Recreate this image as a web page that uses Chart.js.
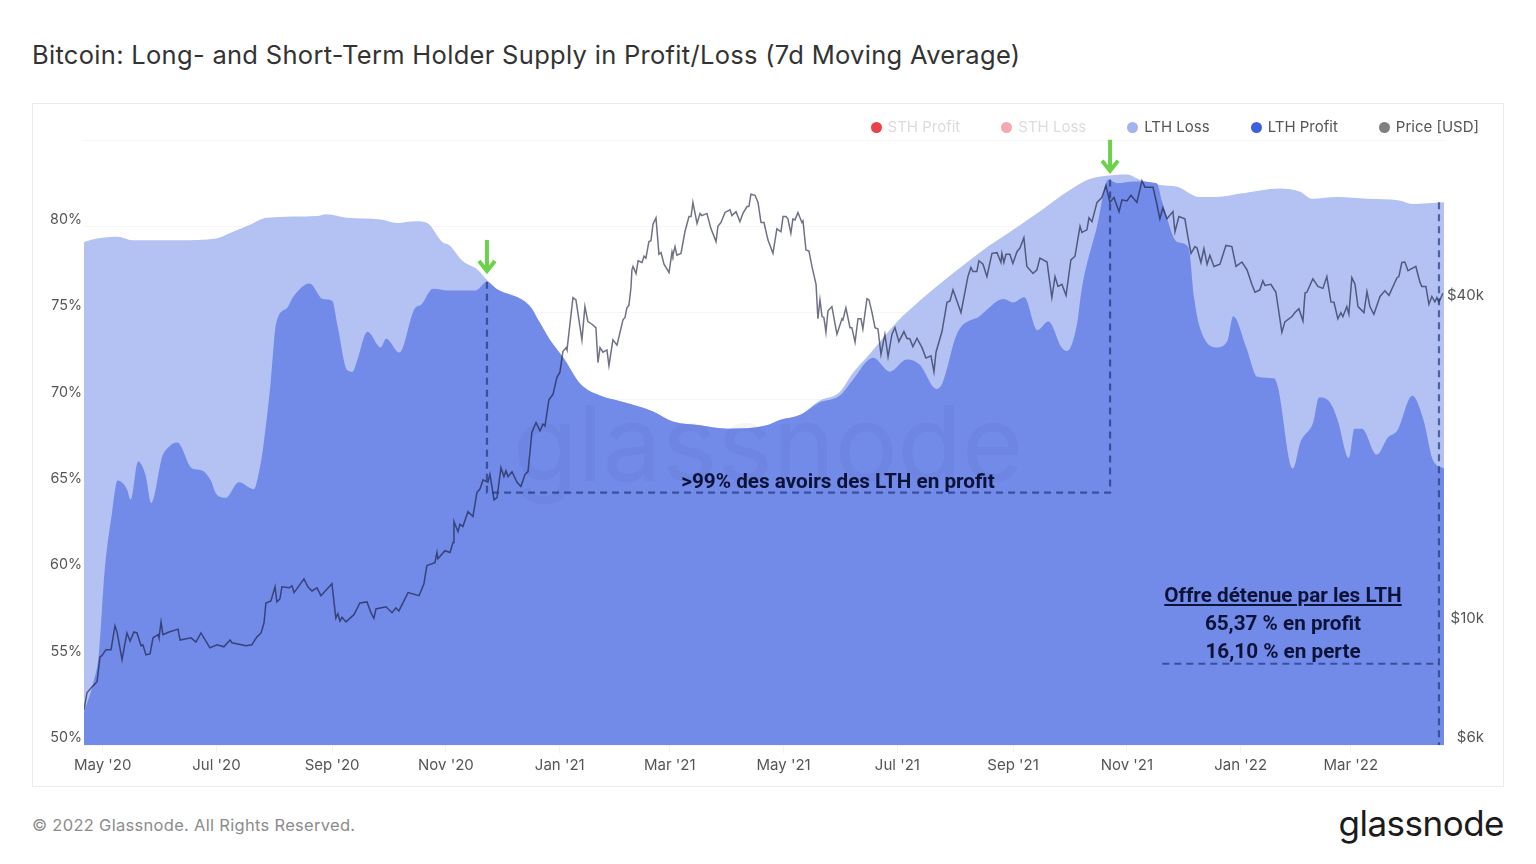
<!DOCTYPE html>
<html lang="en">
<head>
<meta charset="utf-8">
<title>Bitcoin: Long- and Short-Term Holder Supply in Profit/Loss</title>
<script src="https://cdn.jsdelivr.net/npm/chart.js@4"></script>
<style>
  html, body { margin: 0; padding: 0; background: #fff; }
  body { width: 1536px; height: 864px; position: relative; overflow: hidden; font-family: Inter, sans-serif; }
  .title { position: absolute; left: 32px; top: 38px; font-size: 25.5px; line-height: 34px; color: #333; white-space: nowrap; letter-spacing: 0.3px; }
  .card { position: absolute; left: 32px; top: 103px; width: 1470px; height: 682px; border: 1px solid #ebebeb; }
  #chart { position: absolute; left: 32px; top: 103px; }
  .legend { position: absolute; right: 57px; top: 117px; display: flex; gap: 41px; font-size: 15px; line-height: 20px; color: #555; }
  .legend span { display: flex; align-items: center; white-space: nowrap; }
  .legend i { width: 11px; height: 11px; border-radius: 50%; margin-right: 6px; }
  .legend .off { color: #dcdcdc; }
  .watermark { position: absolute; left: 513px; top: 378px; font-size: 105px; line-height: 130px; color: rgba(30,30,60,0.045); white-space: nowrap; }
  .note { position: absolute; font-family: Roboto, sans-serif; font-weight: 700; font-size: 20.7px; line-height: 28px; color: #0c1238; white-space: nowrap; text-align: center; }
  .footer { position: absolute; left: 32px; top: 814px; font-size: 16.5px; line-height: 22px; color: #8c8c8c; letter-spacing: 0.3px; }
  .logo { position: absolute; right: 32px; top: 798px; font-size: 35px; line-height: 50px; color: #1b1b1b; letter-spacing: -0.5px; }
</style>
</head>
<body>
<div class="title">Bitcoin: Long- and Short-Term Holder Supply in Profit/Loss (7d Moving Average)</div>
<div class="card"></div>
<canvas id="chart" width="1471" height="683"></canvas>
<div class="legend" id="legend"></div>
<div class="watermark">glassnode</div>
<div class="note" style="left:638px;top:467px;width:400px">&gt;99% des avoirs des LTH en profit</div>
<div class="note" style="left:1083px;top:581px;width:400px"><u>Offre détenue par les LTH</u><br>65,37 % en profit<br>16,10 % en perte</div>
<div class="footer">© 2022 Glassnode. All Rights Reserved.</div>
<div class="logo">glassnode</div>
<script>
// x is days since 21 Apr 2020
const monthDays = [10, 71, 133, 194, 255, 314, 375, 436, 498, 559, 620, 679];
const monthLabels = ["May '20", "Jul '20", "Sep '20", "Nov '20", "Jan '21", "Mar '21", "May '21", "Jul '21", "Sep '21", "Nov '21", "Jan '22", "Mar '22"];
const pctTicks = [50, 55, 60, 65, 70, 75, 80, 85];
const priceTicks = [6000, 10000, 40000];
const priceTickLabels = ["$6k", "$10k", "$40k"];

// top of the stack: LTH profit + LTH loss (% of supply)
const lossDays = [0,7,18,26,42,51,71,78,89,98,
  125,130,141,159,168,178,184,192,196,203,
  211,216,221,239,244,250,257,266,277,287,
  305,316,330,345,366,373,384,394,405,412,
  421,436,448,466,484,491,502,514,527,538,
  546,559,566,577,586,598,607,620,641,652,
  658,672,688,705,712,729];
const lossValues = [79.1,79.3,79.4,79.2,79.2,79.2,79.3,79.6,80.1,80.5,
  80.6,80.7,80.5,80.4,80.2,80.3,80.2,79.1,78.9,78.0,
  77.5,76.9,76.4,75.4,74.5,73.4,72.4,70.9,70.2,69.9,
  69.3,68.7,68.5,68.3,68.5,68.8,69.1,69.9,70.4,71.5,
  72.6,74.5,75.7,77.3,78.8,79.3,80.1,81.0,82.0,82.7,
  82.9,83.0,82.7,82.4,82.3,81.7,81.7,81.9,82.2,82.0,
  81.6,81.7,81.6,81.5,81.3,81.4];

const profitDays = [0,5,8,11,15,18,23,25,29,33,
  36,42,45,50,58,63,68,71,76,83,
  91,94,96,100,103,109,112,121,128,133,
  136,141,144,146,152,159,162,169,177,181,
  187,195,210,216,221,239,244,250,257,266,
  277,287,305,316,330,345,366,373,384,394,
  405,412,423,432,441,448,457,460,468,480,
  493,498,504,511,517,524,527,532,535,543,
  549,554,563,575,578,586,592,595,598,607,
  613,616,623,629,638,640,648,652,659,662,
  668,672,678,681,685,693,699,704,712,718,
  723,729];
const profitValues = [51.9,53.6,55.3,60.0,63.4,65.3,64.8,64.2,66.4,65.6,
  64.0,66.7,67.2,67.5,66.0,65.9,65.3,64.5,64.3,65.2,
  64.8,65.9,67.2,70.9,74.4,75.3,75.9,76.7,75.8,75.7,
  74.2,71.7,71.6,72.1,73.9,73.0,73.5,72.7,75.2,75.5,
  76.4,76.3,76.3,76.8,76.4,75.4,74.5,73.4,72.4,70.9,
  70.2,69.9,69.3,68.7,68.5,68.3,68.5,68.8,69.1,69.8,
  70.2,71.1,72.4,71.6,72.3,72.0,70.6,70.9,73.8,74.8,
  75.8,75.6,75.9,74.0,74.5,73.0,72.8,74.2,76.5,80.0,
  82.7,82.5,82.6,82.5,81.4,79.1,78.8,75.9,74.2,73.0,
  73.4,74.8,73.0,71.3,71.2,70.7,66.0,67.5,68.7,70.1,
  69.8,68.8,66.6,68.3,68.3,66.8,67.8,68.2,70.2,68.8,
  66.5,66.0];

const priceDays = [0,1.6,4.3,7,8.6,9.6,11.8,14.5,16.6,17.7,
  20.4,23,24.7,26.8,28.4,30.6,31.6,33.2,35.4,37,
  39.7,40.2,41.3,42.3,45.6,50.4,51.5,57.4,60,62.7,
  67.5,71.3,75,78.3,79.3,86.8,90,92.7,94.9,96.5,
  97.5,100.2,102.4,103.4,105,106.1,109.9,111.5,112.6,117.9,
  120,122.2,124.9,127,132.9,135,136.1,137.2,138.3,140.4,
  144.7,147.9,151.7,153.8,155.4,156.5,161.9,165.1,167.2,168.8,
  173.7,179.6,182.2,183.8,188.1,189.2,189.7,193.5,196.2,197.8,
  198.3,200.5,201.5,203.1,205.8,208.5,210.6,212.3,213.9,216.5,
  217.6,219.8,221.4,223.5,225.1,226.2,227.3,229.4,232.1,234.2,
  236.4,238,240.1,242.3,244.4,246,247.1,249.2,251.4,253.5,
  255.1,256.7,258.4,258.9,262.1,263.7,266.9,268.5,270.1,272.3,
  274.4,275.5,276.6,278.2,280.3,281.4,283.5,285.7,288.9,290,
  291,292.1,293.2,293.7,294.3,295.9,297,299.1,300.2,301.2,
  302.8,303.9,305,306.6,308.2,309.3,310.9,313.6,315.2,315.7,
  316.8,317.8,320,322.1,324.3,325.4,326.4,328.6,330.2,331.2,
  333.9,336,338.8,339.8,341.4,343.6,346.3,347.3,349.5,351.6,
  353.2,355.4,356.4,357.5,359.7,361.3,362.9,364.5,366.6,369.3,
  371.4,373.6,374.7,376.3,377.3,378.9,380,381.1,382.7,384.8,
  385.4,387,388.6,390.2,392.4,393.4,394.5,395.6,396.6,397.7,
  398.8,400.9,403.6,406.3,406.8,408.4,410.6,411.6,413.3,414.9,
  416.5,417.5,419.7,420.8,422.4,424,425.6,427.2,429.3,431,
  433.1,434.7,436.8,439.5,441.1,442.7,444.3,446.5,449.2,451.3,
  454,455.6,456.7,459.9,462.6,464.2,465.8,470.1,473.8,475.4,
  476.5,478.6,479.7,481.9,484,486.7,489.4,491.5,492,493.1,
  494.2,496.3,497.9,500.1,501.7,503.8,505.4,508.7,510.8,512.4,
  516.2,518.8,520.5,522.1,524.2,526.4,529,531.2,533.9,534.9,
  537.6,538.7,540.3,543,545.6,547.8,549.9,552.1,554.8,556.4,
  559,561.2,564.4,567.1,568.7,573,575.1,576.7,578.3,580.5,
  583.7,584.8,586.9,590.1,591.7,593.4,595.5,596.6,598.7,600.3,
  602,603.5,605.7,608.9,612.1,615.3,617.5,620.7,623.4,626,
  627.7,630.3,631.9,633,636.2,638.9,642.1,643.7,647.5,649.1,
  651.2,653.4,654.5,655.5,658.7,661.4,664.1,666.2,668.4,670,
  672.1,673.7,674.8,676.9,678,679.6,681.3,682.9,686.1,687.7,
  689.3,691.4,694.7,697.3,699.5,703.8,704.8,706.4,708,709.7,
  713.9,716.1,717.1,719.3,720.9,722.5,724.1,725.2,726.3,728.4];
const priceValues = [6950,7475,7670,7840,8730,8770,9000,9000,9970,9710,
  8620,9670,9340,9710,9670,9150,9190,8800,8840,9470,
  9600,9470,10140,9600,9710,9830,9380,9470,9300,9670,
  9070,9190,9110,9380,9270,9150,9190,9510,9670,10100,
  11000,11100,11790,11050,11190,11790,11740,11840,11500,12200,
  11790,11580,11740,11350,11950,10300,10500,10180,10340,10140,
  10460,11000,11050,10550,10300,10720,10820,10550,10770,10630,
  11500,11350,11950,12920,13080,13660,13300,13770,13660,14260,
  15600,14940,15420,15280,16280,15950,17670,17960,18670,18480,
  19110,17130,17290,19670,18930,19410,18930,19340,18480,18140,
  19110,19340,22900,23880,23050,23700,23520,26320,26960,29000,
  29650,32400,32950,32630,40850,40450,34060,39300,36850,36430,
  35900,30900,32950,32300,32630,30500,34060,33300,37120,37500,
  39100,39500,42650,46020,46700,45300,47850,47500,48800,48400,
  51950,52150,55990,57550,49210,49550,47140,45500,49750,49000,
  50850,49000,49400,54200,57850,57850,61500,56200,58650,58100,
  58650,55000,51950,55500,56400,58900,59560,58100,59100,56600,
  58650,60400,60400,63690,63400,61500,56400,56400,52350,49400,
  54900,54200,57850,57850,57300,53900,57300,57050,58900,56400,
  56800,50150,49900,46700,43260,37300,40450,37650,37500,35200,
  38600,39300,34900,37300,37120,39100,35900,35900,33750,37300,
  37300,35700,40650,40450,38300,35900,35700,32020,34900,31700,
  34900,35900,33800,35300,34300,34200,33100,34300,32950,31500,
  31800,29700,32300,35300,40050,40250,42230,38300,44700,46500,
  45700,45700,47850,47140,44700,49400,49550,47500,49400,47500,
  49210,49210,47300,49750,50550,52850,46700,45300,46020,48400,
  47600,40850,44700,42850,43260,41250,48040,48800,55500,54050,
  54650,57550,56600,61500,62800,66150,61500,62800,59100,62170,
  61900,63400,61500,67500,65650,65650,61010,57300,60100,57300,
  59100,54200,57850,57300,53100,49400,50850,50550,47500,50400,
  47140,49000,46700,47140,51100,50850,46700,47600,46020,43260,
  41800,42230,43900,43050,43260,41800,35200,36800,37650,38300,
  38950,36950,41650,41800,44300,42850,42500,44700,40100,40050,
  37300,38300,37650,39300,38030,44500,43260,39300,38300,41900,
  39300,38030,41050,42050,41250,44500,44700,47500,47600,45850,
  46700,43650,42850,42850,39700,41050,40100,40850,40050,41600];

// annotation guides, same units as the data
const guideFirstDay = 216;
const guideSecondDay = 550;
const guideLastDay = 726.3;
const guideFloorPct = 64.6;
const guideNotePct = 54.7;
const guideNoteStartDay = 578;
const arrowDays = [216, 550];
const arrowTipPct = [77.3, 83.1];

const legendItems = [
  ["STH Profit", "#e8424a", true],
  ["STH Loss", "#f4a9b0", true],
  ["LTH Loss", "#a4b4ef", false],
  ["LTH Profit", "#3f60dd", false],
  ["Price [USD]", "#808080", false]
];
document.getElementById("legend").innerHTML = legendItems.map(([name, color, off]) =>
  `<span class="${off ? "off" : ""}"><i style="background:${color}"></i>${name}</span>`).join("");

const toPoints = (xs, ys) => xs.map((x, i) => ({ x, y: ys[i] }));
const guide = (data) => ({ type: "line", data, yAxisID: "y", borderColor: "rgba(35,55,125,0.7)", borderWidth: 2.2, borderDash: [7, 5], pointRadius: 0, fill: false, order: 0 });

// green arrows sit on top of the plot, anchored through the scales
const arrowPlugin = {
  id: "arrows",
  afterDatasetsDraw(chart) {
    const { ctx, scales } = chart;
    ctx.save();
    ctx.strokeStyle = "#6cd24c";
    ctx.lineWidth = 4;
    arrowDays.forEach((day, i) => {
      const x = scales.x.getPixelForValue(day);
      const tip = scales.y.getPixelForValue(arrowTipPct[i]);
      ctx.beginPath();
      ctx.moveTo(x, tip - 33);
      ctx.lineTo(x, tip - 2);
      ctx.moveTo(x - 8, tip - 12);
      ctx.lineTo(x, tip - 2);
      ctx.lineTo(x + 8, tip - 12);
      ctx.stroke();
    });
    ctx.restore();
  }
};

new Chart(document.getElementById("chart"), {
  type: "line",
  data: {
    datasets: [
      { label: "Price [USD]", data: toPoints(priceDays, priceValues), yAxisID: "price", borderColor: "rgba(15,20,50,0.6)", borderWidth: 1.5, pointRadius: 0, fill: false, order: 1 },
      guide([{ x: guideFirstDay, y: 76.8 }, { x: guideFirstDay, y: guideFloorPct }, { x: guideSecondDay, y: guideFloorPct }, { x: guideSecondDay, y: 82.9 }]),
      guide([{ x: guideNoteStartDay, y: guideNotePct }, { x: guideLastDay, y: guideNotePct }]),
      guide([{ x: guideLastDay, y: 81.4 }, { x: guideLastDay, y: 50 }]),
      { label: "LTH Profit", data: toPoints(profitDays, profitValues), yAxisID: "y", borderWidth: 0, pointRadius: 0, backgroundColor: "#728ae8", fill: "start", cubicInterpolationMode: "monotone", order: 2 },
      { label: "LTH Loss", data: toPoints(lossDays, lossValues), yAxisID: "y", borderWidth: 0, pointRadius: 0, backgroundColor: "#b3c1f3", fill: "start", cubicInterpolationMode: "monotone", order: 3 }
    ]
  },
  options: {
    responsive: false,
    animation: false,
    parsing: false,
    layout: { padding: { top: 37, right: 19, left: 0, bottom: 0 } },
    plugins: { legend: { display: false }, tooltip: { enabled: false } },
    scales: {
      x: {
        type: "linear", min: 0, max: 729,
        afterBuildTicks: (s) => { s.ticks = monthDays.map(value => ({ value })); },
        afterFit: (s) => { s.height = 41; },
        grid: { drawOnChartArea: false, color: "#f2f2f2", tickLength: 8 },
        border: { display: false },
        ticks: { autoSkip: false, maxRotation: 0, padding: 3, color: "#555", font: { family: "Inter", size: 15 }, callback: (v) => monthLabels[monthDays.indexOf(v)] }
      },
      y: {
        min: 50, max: 85, position: "left",
        afterBuildTicks: (s) => { s.ticks = pctTicks.map(value => ({ value })); },
        afterFit: (s) => { s.width = 52; },
        grid: { color: "#f6f6f6", drawTicks: false },
        border: { display: false },
        ticks: { padding: 2, labelOffset: -7, color: "#555", font: { family: "Inter", size: 14.3 }, callback: (v) => v === 85 ? "" : v + "%" }
      },
      price: {
        type: "logarithmic", min: 5975, max: 80400, position: "right",
        afterBuildTicks: (s) => { s.ticks = priceTicks.map(value => ({ value })); },
        afterFit: (s) => { s.width = 40; },
        grid: { display: false },
        border: { display: false },
        ticks: { crossAlign: "far", padding: 0, labelOffset: -7, color: "#555", font: { family: "Inter", size: 15 }, callback: (v) => priceTickLabels[priceTicks.indexOf(v)] }
      }
    }
  },
  plugins: [arrowPlugin]
});
</script>
</body>
</html>
